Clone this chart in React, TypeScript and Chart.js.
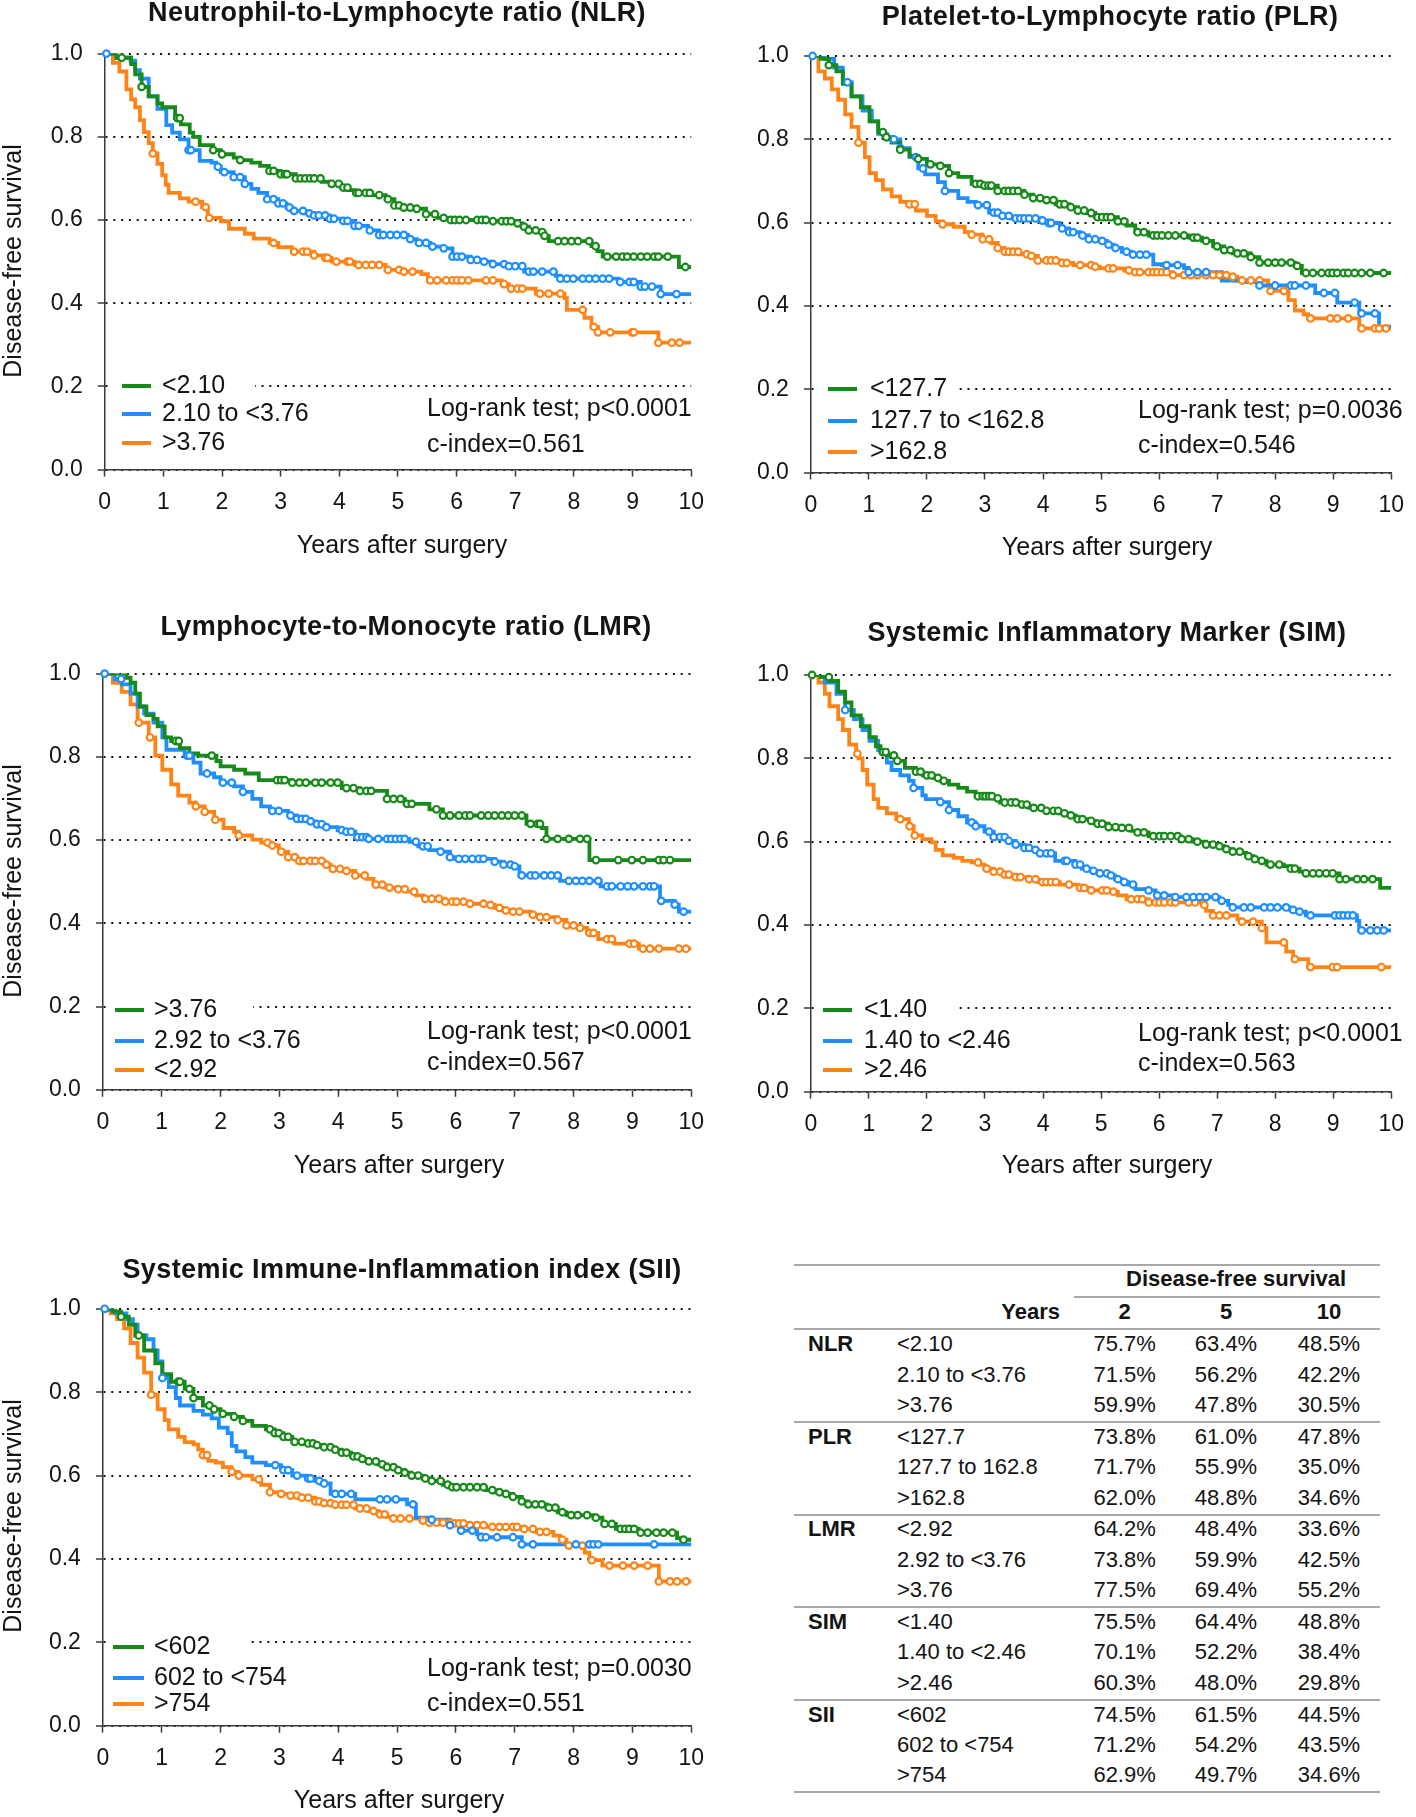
import React, { useEffect, useRef } from "react";
import { Chart, registerables } from "chart.js";
Chart.register(...registerables);

type Pt = [number, number];

const FONT = '"Liberation Sans", Arial, Helvetica, sans-serif';
const TEXT = "#141414";
const AXIS = "#3a3a3a";
const GREEN = "#178a1a";
const BLUE = "#1f8fff";
const ORANGE = "#ff8418";

const xTickValues = [0, 1, 2, 3, 4, 5, 6, 7, 8, 9, 10];
const yTickValues = [0, 0.2, 0.4, 0.6, 0.8, 1.0];
const xAxisTitle = "Years after surgery";
const yAxisTitle = "Disease-free survival";

// ---------------- NLR ----------------
const nlrLabels = ["<2.10", "2.10 to <3.76", ">3.76"];
const nlrLow: Pt[] = [[0,1],[0.2,0.99],[0.45,0.975],[0.52,0.95],[0.63,0.92],[0.75,0.897],[0.9,0.88],[0.98,0.871],[1.2,0.845],[1.3,0.83],[1.45,0.81],[1.51,0.8],[1.62,0.78],[1.85,0.768],[1.98,0.758],[2.2,0.75],[2.31,0.744],[2.5,0.738],[2.65,0.73],[2.8,0.718],[3.0,0.71],[3.26,0.7],[3.7,0.692],[3.87,0.687],[4.03,0.678],[4.15,0.672],[4.26,0.665],[4.56,0.66],[4.79,0.65],[4.94,0.635],[5.1,0.63],[5.25,0.627],[5.48,0.614],[5.67,0.605],[5.9,0.6],[6.62,0.597],[7.0,0.592],[7.12,0.584],[7.23,0.575],[7.38,0.571],[7.5,0.562],[7.57,0.549],[8.3,0.537],[8.4,0.525],[8.49,0.512],[9.79,0.487],[10,0.487]];
const nlrMid: Pt[] = [[0,1],[0.2,0.99],[0.44,0.983],[0.52,0.96],[0.6,0.94],[0.75,0.897],[0.9,0.867],[1.05,0.828],[1.15,0.81],[1.28,0.794],[1.43,0.768],[1.62,0.742],[1.82,0.738],[1.9,0.728],[1.98,0.715],[2.2,0.703],[2.39,0.687],[2.5,0.675],[2.62,0.665],[2.77,0.65],[2.96,0.64],[3.1,0.63],[3.19,0.622],[3.42,0.616],[3.57,0.611],[3.84,0.603],[4.03,0.598],[4.26,0.586],[4.49,0.575],[4.68,0.564],[5.17,0.554],[5.32,0.545],[5.55,0.536],[5.78,0.532],[5.93,0.512],[6.24,0.504],[6.47,0.5],[6.62,0.494],[6.85,0.489],[7.15,0.476],[7.69,0.466],[7.77,0.459],[8.76,0.451],[9.14,0.44],[9.48,0.422],[10,0.422]];
const nlrHigh: Pt[] = [[0,1],[0.14,0.978],[0.25,0.957],[0.37,0.914],[0.45,0.89],[0.52,0.871],[0.6,0.84],[0.67,0.811],[0.75,0.785],[0.82,0.76],[0.9,0.735],[0.98,0.708],[1.04,0.685],[1.09,0.665],[1.28,0.652],[1.43,0.644],[1.66,0.631],[1.76,0.605],[1.98,0.597],[2.12,0.579],[2.39,0.567],[2.54,0.555],[2.81,0.545],[2.96,0.535],[3.19,0.524],[3.57,0.515],[3.76,0.509],[3.87,0.5],[4.26,0.492],[4.79,0.48],[5.1,0.476],[5.4,0.47],[5.51,0.455],[6.77,0.446],[6.89,0.435],[7.35,0.423],[7.84,0.412],[7.88,0.384],[8.18,0.365],[8.3,0.343],[8.41,0.33],[9.44,0.305],[10,0.305]];
const nlrLowCens = [0.29,0.63,1.24,1.28,1.85,2.0,2.31,2.81,2.88,3.0,3.07,3.11,3.26,3.34,3.42,3.5,3.57,3.68,3.87,3.99,4.07,4.14,4.29,4.33,4.45,4.52,4.68,4.83,4.94,5.02,5.1,5.21,5.32,5.48,5.63,5.78,5.9,5.97,6.05,6.16,6.35,6.43,6.5,6.62,6.77,6.85,6.93,7.04,7.15,7.23,7.35,7.46,7.5,7.73,7.84,7.96,8.07,8.26,8.37,8.57,8.72,8.83,8.91,9.02,9.14,9.25,9.37,9.44,9.6,9.9];
const nlrMidCens = [0.03,1.43,1.47,1.93,2.04,2.2,2.31,2.39,2.77,2.88,2.96,3.04,3.15,3.23,3.38,3.49,3.57,3.65,3.76,3.84,3.91,4.07,4.14,4.26,4.33,4.52,4.68,4.75,4.87,4.98,5.1,5.21,5.36,5.48,5.59,5.78,5.93,6.01,6.09,6.24,6.35,6.47,6.62,6.81,6.89,7.0,7.12,7.23,7.31,7.46,7.65,7.77,7.88,7.99,8.15,8.26,8.37,8.49,8.6,8.79,8.95,9.02,9.14,9.21,9.33,9.48,9.75];
const nlrHighCens = [0.82,1.55,1.72,1.78,2.88,3.23,3.38,3.45,3.57,3.76,3.8,3.95,4.14,4.18,4.33,4.45,4.56,4.68,4.83,5.02,5.1,5.25,5.55,5.67,5.82,5.93,6.01,6.09,6.2,6.5,6.62,6.81,6.93,7.04,7.12,7.42,7.57,7.77,8.15,8.34,8.41,8.62,8.99,9.02,9.44,9.67,9.8];

// ---------------- PLR ----------------
const plrLabels = ["<127.7", "127.7 to <162.8", ">162.8"];
const plrLow: Pt[] = [[0,1],[0.17,0.993],[0.31,0.978],[0.44,0.963],[0.55,0.933],[0.7,0.903],[0.86,0.877],[1.01,0.843],[1.16,0.817],[1.25,0.805],[1.39,0.792],[1.54,0.775],[1.7,0.76],[1.85,0.753],[2.0,0.74],[2.23,0.736],[2.38,0.719],[2.54,0.71],[2.77,0.693],[2.95,0.689],[3.22,0.676],[3.68,0.667],[3.83,0.659],[4.06,0.654],[4.22,0.644],[4.45,0.637],[4.6,0.629],[4.75,0.623],[4.9,0.613],[5.29,0.603],[5.44,0.593],[5.59,0.577],[5.82,0.569],[6.51,0.564],[6.74,0.556],[6.93,0.543],[7.12,0.534],[7.27,0.526],[7.58,0.517],[7.73,0.504],[8.34,0.496],[8.46,0.479],[10,0.478]];
const plrMid: Pt[] = [[0,1],[0.24,0.993],[0.4,0.972],[0.55,0.937],[0.7,0.903],[0.89,0.869],[1.05,0.843],[1.16,0.813],[1.31,0.8],[1.54,0.779],[1.7,0.757],[1.85,0.73],[1.97,0.716],[2.19,0.697],[2.31,0.676],[2.54,0.659],[2.7,0.65],[2.84,0.642],[3.07,0.624],[3.26,0.616],[3.45,0.61],[3.95,0.605],[4.06,0.599],[4.29,0.586],[4.45,0.577],[4.64,0.569],[4.79,0.56],[4.98,0.556],[5.1,0.547],[5.21,0.539],[5.36,0.53],[5.52,0.523],[5.9,0.5],[6.05,0.498],[6.43,0.491],[6.51,0.481],[7.08,0.461],[7.5,0.457],[7.73,0.449],[8.69,0.431],[9.07,0.408],[9.45,0.382],[9.79,0.35],[10,0.35]];
const plrHigh: Pt[] = [[0,1],[0.13,0.963],[0.24,0.946],[0.36,0.92],[0.47,0.895],[0.59,0.86],[0.7,0.83],[0.82,0.792],[0.93,0.757],[1.01,0.719],[1.12,0.702],[1.24,0.68],[1.39,0.663],[1.54,0.65],[1.66,0.644],[1.81,0.629],[2.0,0.616],[2.15,0.603],[2.27,0.596],[2.46,0.59],[2.65,0.577],[2.77,0.571],[2.96,0.56],[3.11,0.551],[3.22,0.539],[3.34,0.53],[3.61,0.524],[3.76,0.52],[3.91,0.509],[4.29,0.503],[4.52,0.498],[4.9,0.494],[4.98,0.49],[5.4,0.485],[5.59,0.481],[6.24,0.474],[7.2,0.47],[7.35,0.461],[7.88,0.449],[7.92,0.436],[8.23,0.414],[8.34,0.389],[8.49,0.38],[8.57,0.37],[9.45,0.346],[10,0.346]];
const plrLowCens = [0.31,1.24,1.3,1.54,1.85,2.06,2.23,2.38,2.84,2.92,2.99,3.06,3.11,3.22,3.34,3.41,3.49,3.57,3.68,3.83,3.95,4.06,4.18,4.29,4.37,4.48,4.6,4.71,4.83,4.94,5.02,5.1,5.17,5.29,5.4,5.63,5.74,5.9,5.97,6.05,6.16,6.28,6.43,6.59,6.66,6.81,7.0,7.12,7.23,7.35,7.46,7.58,7.73,7.88,8.0,8.11,8.27,8.38,8.53,8.65,8.8,8.92,8.99,9.07,9.18,9.26,9.37,9.49,9.64,9.87];
const plrMidCens = [0.03,0.63,1.43,1.54,1.81,1.93,2.31,2.88,3.03,3.15,3.22,3.3,3.41,3.53,3.61,3.68,3.76,3.87,3.99,4.1,4.14,4.33,4.45,4.52,4.68,4.79,4.9,5.02,5.13,5.25,5.44,5.55,5.67,5.78,6.13,6.32,6.51,6.66,6.81,7.73,8.0,8.27,8.34,8.53,8.84,9.03,9.37,9.49,9.72];
const plrHighCens = [0.82,1.7,1.79,2.27,2.77,2.96,3.07,3.22,3.34,3.41,3.49,3.57,3.72,3.8,3.91,4.06,4.14,4.22,4.33,4.41,4.64,4.83,4.9,5.13,5.21,5.48,5.59,5.67,5.82,5.9,5.97,6.05,6.13,6.24,6.43,6.55,6.66,6.81,6.93,7.04,7.16,7.27,7.43,7.58,7.73,7.92,8.15,8.61,8.95,9.07,9.26,9.49,9.72,9.79,9.91];

// ---------------- LMR ----------------
const lmrLabels = [">3.76", "2.92 to <3.76", "<2.92"];
const lmrHigh: Pt[] = [[0,1],[0.4,0.99],[0.47,0.978],[0.55,0.952],[0.63,0.921],[0.74,0.9],[0.86,0.891],[0.93,0.873],[1.05,0.847],[1.16,0.838],[1.31,0.821],[1.47,0.808],[1.62,0.803],[1.93,0.79],[2.0,0.777],[2.23,0.769],[2.42,0.76],[2.65,0.744],[3.22,0.738],[4.06,0.725],[4.37,0.718],[4.83,0.699],[5.13,0.687],[5.55,0.674],[5.78,0.659],[7.2,0.639],[7.46,0.629],[7.54,0.603],[8.27,0.552],[10,0.552]];
const lmrMid: Pt[] = [[0,1],[0.2,0.987],[0.32,0.974],[0.47,0.952],[0.59,0.921],[0.7,0.904],[0.86,0.882],[1.01,0.847],[1.08,0.817],[1.39,0.803],[1.54,0.786],[1.66,0.76],[1.89,0.751],[2.0,0.738],[2.23,0.729],[2.38,0.716],[2.54,0.699],[2.69,0.681],[2.84,0.67],[3.15,0.659],[3.3,0.651],[3.53,0.645],[3.61,0.638],[3.76,0.631],[3.99,0.624],[4.14,0.62],[4.29,0.607],[4.52,0.603],[5.21,0.596],[5.36,0.585],[5.55,0.576],[5.74,0.572],[5.9,0.559],[5.97,0.555],[6.66,0.548],[6.81,0.541],[6.97,0.537],[7.08,0.515],[7.77,0.502],[8.46,0.489],[9.47,0.454],[9.72,0.445],[9.79,0.428],[10,0.425]];
const lmrLow: Pt[] = [[0,1],[0.17,0.978],[0.32,0.956],[0.47,0.926],[0.59,0.882],[0.78,0.847],[0.89,0.803],[1.01,0.769],[1.16,0.734],[1.28,0.707],[1.47,0.69],[1.58,0.681],[1.73,0.668],[1.89,0.649],[2.05,0.629],[2.23,0.62],[2.31,0.611],[2.54,0.601],[2.69,0.594],[2.84,0.587],[2.99,0.572],[3.15,0.559],[3.3,0.55],[3.76,0.541],[3.87,0.531],[4.06,0.526],[4.29,0.515],[4.48,0.507],[4.6,0.493],[4.79,0.486],[4.98,0.482],[5.17,0.476],[5.32,0.467],[5.44,0.459],[5.82,0.452],[6.2,0.447],[6.51,0.444],[6.66,0.437],[6.81,0.431],[6.97,0.428],[7.27,0.421],[7.43,0.415],[7.73,0.408],[7.88,0.395],[8.11,0.389],[8.23,0.377],[8.42,0.362],[8.69,0.351],[9.11,0.339],[10,0.336]];
const lmrHighCens = [1.24,1.29,1.85,2.96,3.03,3.09,3.22,3.34,3.45,3.61,3.72,3.87,3.99,4.14,4.26,4.37,4.48,4.56,4.83,4.94,5.06,5.17,5.25,5.67,5.78,5.9,6.05,6.16,6.24,6.43,6.55,6.66,6.78,6.89,7.0,7.12,7.27,7.39,7.43,7.54,7.73,7.92,8.11,8.23,8.38,8.76,8.99,9.18,9.45,9.53,9.64];
const lmrMidCens = [0.03,0.31,1.43,1.47,1.77,2.04,2.19,2.38,2.88,2.99,3.19,3.3,3.38,3.45,3.53,3.64,3.72,3.8,4.06,4.14,4.22,4.33,4.41,4.48,4.52,4.68,4.83,4.9,4.98,5.06,5.13,5.32,5.44,5.52,5.74,5.9,6.05,6.16,6.28,6.39,6.47,6.66,6.81,6.93,7.0,7.12,7.27,7.35,7.5,7.62,7.73,7.92,8.04,8.15,8.27,8.42,8.57,8.65,8.8,8.92,9.03,9.18,9.3,9.37,9.49,9.72,9.87];
const lmrLowCens = [0.61,0.8,1.58,1.73,1.91,2.31,2.8,2.88,3.03,3.15,3.26,3.34,3.41,3.53,3.61,3.72,3.8,3.91,4.03,4.14,4.29,4.45,4.64,4.75,4.87,5.02,5.13,5.29,5.48,5.59,5.71,5.82,5.94,6.01,6.13,6.24,6.47,6.59,6.74,6.85,6.97,7.08,7.31,7.43,7.54,7.73,7.88,8.0,8.11,8.27,8.34,8.57,8.65,8.95,9.03,9.18,9.3,9.45,9.79,9.91];

// ---------------- SIM ----------------
const simLabels = ["<1.40", "1.40 to <2.46", ">2.46"];
const simLow: Pt[] = [[0,1],[0.17,0.995],[0.32,0.986],[0.47,0.96],[0.59,0.934],[0.7,0.903],[0.86,0.877],[1.01,0.851],[1.12,0.829],[1.2,0.815],[1.31,0.807],[1.47,0.794],[1.62,0.777],[1.81,0.768],[1.93,0.759],[2.12,0.753],[2.23,0.746],[2.38,0.737],[2.54,0.729],[2.69,0.72],[2.84,0.709],[3.15,0.704],[3.26,0.694],[3.6,0.689],[3.76,0.681],[3.99,0.678],[4.06,0.674],[4.29,0.668],[4.44,0.663],[4.56,0.654],[4.83,0.65],[4.9,0.643],[5.13,0.635],[5.36,0.633],[5.52,0.626],[5.63,0.622],[5.82,0.613],[6.36,0.606],[6.58,0.6],[6.81,0.593],[6.97,0.589],[7.12,0.582],[7.27,0.576],[7.43,0.573],[7.5,0.565],[7.62,0.558],[7.73,0.554],[7.85,0.545],[8.15,0.541],[8.27,0.535],[8.42,0.528],[8.53,0.524],[9.11,0.51],[9.81,0.489],[10,0.488]];
const simMid: Pt[] = [[0,1],[0.24,0.982],[0.44,0.955],[0.59,0.916],[0.74,0.894],[0.89,0.868],[1.01,0.842],[1.16,0.82],[1.31,0.79],[1.39,0.772],[1.54,0.759],[1.69,0.746],[1.77,0.729],[1.92,0.711],[1.98,0.702],[2.23,0.695],[2.38,0.676],[2.54,0.661],[2.69,0.646],[2.84,0.637],[2.99,0.624],[3.15,0.611],[3.37,0.602],[3.53,0.593],[3.68,0.585],[3.8,0.58],[3.91,0.572],[4.21,0.554],[4.56,0.545],[4.67,0.535],[4.82,0.53],[4.98,0.524],[5.13,0.519],[5.24,0.51],[5.36,0.503],[5.47,0.497],[5.59,0.486],[5.82,0.483],[5.94,0.471],[6.24,0.467],[7.04,0.458],[7.19,0.448],[7.27,0.442],[8.26,0.436],[8.38,0.432],[8.53,0.423],[9.41,0.41],[9.45,0.387],[10,0.387]];
const simHigh: Pt[] = [[0,1],[0.13,0.982],[0.24,0.955],[0.32,0.925],[0.47,0.894],[0.55,0.868],[0.66,0.833],[0.78,0.811],[0.82,0.8],[0.89,0.772],[0.97,0.737],[1.08,0.702],[1.16,0.681],[1.31,0.668],[1.47,0.654],[1.69,0.637],[1.77,0.615],[1.92,0.606],[2.08,0.598],[2.15,0.58],[2.27,0.567],[2.46,0.561],[2.61,0.554],[2.77,0.55],[2.9,0.545],[2.99,0.535],[3.15,0.528],[3.3,0.521],[3.53,0.515],[3.76,0.51],[3.91,0.503],[4.29,0.497],[4.6,0.489],[4.83,0.483],[5.13,0.48],[5.29,0.471],[5.44,0.462],[5.82,0.454],[6.74,0.448],[6.81,0.434],[6.93,0.423],[7.35,0.414],[7.39,0.408],[7.77,0.393],[7.85,0.358],[8.19,0.336],[8.31,0.318],[8.57,0.299],[10,0.298]];
const simLowCens = [0.02,0.31,1.24,1.29,1.43,1.49,1.81,1.89,2.0,2.08,2.19,2.29,2.88,2.96,3.01,3.07,3.12,3.22,3.34,3.45,3.53,3.64,3.72,3.84,3.97,4.06,4.18,4.26,4.37,4.48,4.6,4.68,4.83,4.94,5.02,5.13,5.25,5.36,5.48,5.63,5.74,5.9,6.01,6.09,6.2,6.32,6.39,6.51,6.66,6.81,6.93,7.04,7.16,7.27,7.39,7.54,7.65,7.77,7.92,8.07,8.27,8.34,8.53,8.65,8.76,8.88,8.99,9.11,9.22,9.41,9.53,9.68];
const simMidCens = [0.59,1.77,2.23,2.38,2.77,2.84,3.07,3.15,3.26,3.34,3.41,3.53,3.68,3.76,3.87,3.95,4.06,4.14,4.37,4.41,4.56,4.64,4.75,4.87,4.98,5.1,5.17,5.29,5.4,5.55,5.82,5.97,6.09,6.28,6.47,6.59,6.7,6.81,6.97,7.08,7.27,7.46,7.58,7.81,7.92,8.04,8.19,8.31,8.42,8.61,9.03,9.11,9.18,9.26,9.34,9.49,9.64,9.76,9.87];
const simHighCens = [0.8,1.54,1.7,1.79,2.88,3.03,3.15,3.26,3.34,3.41,3.53,3.61,3.76,3.87,3.99,4.06,4.14,4.22,4.45,4.64,4.71,4.83,5.02,5.1,5.21,5.52,5.63,5.71,5.82,5.94,6.01,6.09,6.2,6.28,6.51,6.62,6.78,6.93,7.04,7.16,7.43,7.62,7.77,8.15,8.34,8.61,8.99,9.07,9.83];

// ---------------- SII ----------------
const siiLabels = ["<602", "602 to <754", ">754"];
const siiLow: Pt[] = [[0,1],[0.17,0.993],[0.31,0.981],[0.44,0.962],[0.55,0.936],[0.7,0.9],[0.89,0.869],[1.01,0.843],[1.16,0.825],[1.39,0.808],[1.54,0.786],[1.7,0.768],[1.85,0.759],[2.0,0.748],[2.23,0.741],[2.38,0.731],[2.54,0.719],[2.77,0.711],[2.92,0.702],[3.07,0.693],[3.22,0.681],[3.45,0.677],[3.61,0.673],[3.76,0.668],[3.91,0.662],[4.06,0.655],[4.22,0.646],[4.37,0.64],[4.52,0.634],[4.68,0.627],[4.83,0.62],[4.98,0.613],[5.13,0.607],[5.24,0.6],[5.44,0.593],[5.59,0.587],[5.78,0.578],[5.9,0.572],[6.51,0.565],[6.66,0.56],[6.85,0.556],[6.97,0.549],[7.12,0.538],[7.23,0.531],[7.54,0.523],[7.73,0.512],[7.88,0.505],[8.34,0.499],[8.49,0.484],[8.72,0.472],[9.11,0.463],[9.76,0.45],[9.83,0.446],[10,0.445]];
const siiMid: Pt[] = [[0,1],[0.09,0.997],[0.21,0.989],[0.4,0.975],[0.51,0.962],[0.59,0.936],[0.74,0.927],[0.86,0.9],[0.93,0.874],[1.01,0.834],[1.12,0.812],[1.24,0.786],[1.31,0.768],[1.54,0.755],[1.7,0.746],[1.85,0.737],[1.97,0.715],[2.12,0.702],[2.19,0.671],[2.27,0.658],[2.42,0.644],[2.54,0.631],[2.77,0.625],[3.03,0.613],[3.22,0.6],[3.45,0.593],[3.61,0.587],[3.76,0.581],[3.87,0.556],[4.29,0.543],[5.17,0.531],[5.32,0.499],[5.59,0.494],[5.9,0.481],[6.05,0.468],[6.36,0.459],[6.43,0.452],[7.12,0.435],[10,0.435]];
const siiHigh: Pt[] = [[0,1],[0.13,0.989],[0.24,0.975],[0.36,0.953],[0.47,0.918],[0.59,0.883],[0.7,0.847],[0.82,0.794],[0.93,0.759],[1.05,0.733],[1.12,0.711],[1.28,0.693],[1.39,0.68],[1.54,0.675],[1.62,0.662],[1.7,0.649],[1.79,0.635],[1.92,0.631],[2.04,0.62],[2.19,0.609],[2.31,0.6],[2.54,0.591],[2.69,0.578],[2.84,0.56],[3.03,0.556],[3.19,0.552],[3.38,0.547],[3.61,0.538],[3.76,0.534],[3.91,0.53],[4.29,0.521],[4.52,0.515],[4.68,0.507],[4.83,0.501],[4.9,0.497],[5.4,0.492],[5.55,0.487],[5.97,0.485],[6.24,0.481],[6.51,0.477],[7.12,0.472],[7.35,0.465],[7.66,0.456],[7.77,0.446],[7.88,0.432],[8.19,0.415],[8.27,0.397],[8.49,0.384],[9.45,0.346],[10,0.346]];
const siiLowCens = [0.31,0.61,1.28,1.31,1.47,1.54,1.81,1.89,2.04,2.23,2.38,2.84,2.92,2.99,3.07,3.15,3.26,3.38,3.49,3.57,3.64,3.76,3.87,3.95,4.06,4.14,4.26,4.33,4.41,4.52,4.64,4.75,4.83,4.94,5.02,5.13,5.25,5.36,5.48,5.59,5.74,5.86,5.94,6.01,6.13,6.24,6.36,6.47,6.62,6.74,6.85,6.97,7.12,7.23,7.35,7.46,7.58,7.69,7.81,7.96,8.07,8.23,8.38,8.53,8.65,8.8,8.88,8.95,9.03,9.14,9.26,9.41,9.53,9.68,9.87];
const siiMidCens = [0.03,1.01,2.93,3.07,3.15,3.3,3.49,3.53,3.68,3.76,3.95,4.06,4.22,4.71,4.83,4.98,5.27,5.59,5.9,6.09,6.28,6.43,6.51,6.7,6.97,7.12,7.31,8.04,8.27,8.34,8.42,9.37];
const siiHighCens = [0.82,1.7,1.77,2.19,2.31,2.65,2.84,3.03,3.19,3.3,3.38,3.49,3.61,3.68,3.76,3.87,3.95,4.06,4.14,4.26,4.37,4.48,4.6,4.71,4.79,4.94,5.06,5.21,5.44,5.55,5.67,5.78,5.9,5.97,6.05,6.13,6.24,6.36,6.47,6.62,6.74,6.85,6.97,7.04,7.16,7.31,7.43,7.54,7.81,7.92,8.15,8.31,8.61,8.84,9.03,9.26,9.45,9.64,9.76,9.91];

// ---------------- Table ----------------
const tableHeader = "Disease-free survival";
const tableYearsLabel = "Years";
const tableYears = ["2", "5", "10"];
const tableGroups = ["NLR", "PLR", "LMR", "SIM", "SII"];
const tableCategories = [
  ["<2.10", "2.10 to <3.76", ">3.76"],
  ["<127.7", "127.7 to 162.8", ">162.8"],
  ["<2.92", "2.92 to <3.76", ">3.76"],
  ["<1.40", "1.40 to <2.46", ">2.46"],
  ["<602", "602 to <754", ">754"],
];
const tableValues = [
  [["75.7%", "63.4%", "48.5%"], ["71.5%", "56.2%", "42.2%"], ["59.9%", "47.8%", "30.5%"]],
  [["73.8%", "61.0%", "47.8%"], ["71.7%", "55.9%", "35.0%"], ["62.0%", "48.8%", "34.6%"]],
  [["64.2%", "48.4%", "33.6%"], ["73.8%", "59.9%", "42.5%"], ["77.5%", "69.4%", "55.2%"]],
  [["75.5%", "64.4%", "48.8%"], ["70.1%", "52.2%", "38.4%"], ["60.3%", "48.0%", "29.8%"]],
  [["74.5%", "61.5%", "44.5%"], ["71.2%", "54.2%", "43.5%"], ["62.9%", "49.7%", "34.6%"]],
];

// ---------------- Layout specs ----------------
interface Series { label: string; color: string; curve: Pt[]; censor: number[] }
interface Rect { x: number; y: number; w: number; h: number }
interface PanelSpec {
  title: string;
  series: Series[];
  logrank: string;
  cindex: string;
  canvas: Rect;
  plot: { l: number; r: number; t: number; b: number };
  titlePos: [number, number];
  xTitlePos: [number, number];
  yTitlePos?: [number, number];
  legend: { x1: number; x2: number; tx: number; rows: number[] };
  annot: { x: number; rows: number[] };
  gapEnd: number;
}

const mk = (labels: string[], curves: Pt[][], cens: number[][]): Series[] =>
  [GREEN, BLUE, ORANGE].map((color, i) => ({ label: labels[i], color, curve: curves[i], censor: cens[i] }));

const panels: PanelSpec[] = [
  {
    title: "Neutrophil-to-Lymphocyte ratio (NLR)",
    series: mk(nlrLabels, [nlrLow, nlrMid, nlrHigh], [nlrLowCens, nlrMidCens, nlrHighCens]),
    logrank: "Log-rank test; p<0.0001", cindex: "c-index=0.561",
    canvas: { x: 0, y: 0, w: 716, h: 600 },
    plot: { l: 104.7, r: 696.6, t: 53.6, b: 469.6 },
    titlePos: [397, 14], xTitlePos: [402, 546], yTitlePos: [14, 261],
    legend: { x1: 122, x2: 151, tx: 162, rows: [386, 414, 443] },
    annot: { x: 427, rows: [409, 445] }, gapEnd: 255,
  },
  {
    title: "Platelet-to-Lymphocyte ratio (PLR)",
    series: mk(plrLabels, [plrLow, plrMid, plrHigh], [plrLowCens, plrMidCens, plrHighCens]),
    logrank: "Log-rank test; p=0.0036", cindex: "c-index=0.546",
    canvas: { x: 716, y: 0, w: 700, h: 600 },
    plot: { l: 810.9, r: 1401.9, t: 56, b: 472.5 },
    titlePos: [1110, 18], xTitlePos: [1107, 548],
    legend: { x1: 828, x2: 857, tx: 870, rows: [389, 421, 452] },
    annot: { x: 1138, rows: [411, 446] }, gapEnd: 959,
  },
  {
    title: "Lymphocyte-to-Monocyte ratio (LMR)",
    series: mk(lmrLabels, [lmrHigh, lmrMid, lmrLow], [lmrHighCens, lmrMidCens, lmrLowCens]),
    logrank: "Log-rank test; p<0.0001", cindex: "c-index=0.567",
    canvas: { x: 0, y: 600, w: 716, h: 620 },
    plot: { l: 102.9, r: 693.9, t: 673.6, b: 1089.8 },
    titlePos: [406, 628], xTitlePos: [399, 1166], yTitlePos: [14, 881],
    legend: { x1: 115, x2: 144, tx: 154, rows: [1010, 1041, 1070] },
    annot: { x: 427, rows: [1032, 1063] }, gapEnd: 253,
  },
  {
    title: "Systemic Inflammatory Marker (SIM)",
    series: mk(simLabels, [simLow, simMid, simHigh], [simLowCens, simMidCens, simHighCens]),
    logrank: "Log-rank test; p<0.0001", cindex: "c-index=0.563",
    canvas: { x: 716, y: 600, w: 700, h: 620 },
    plot: { l: 810.9, r: 1401.9, t: 675, b: 1091.6 },
    titlePos: [1107, 634], xTitlePos: [1107, 1166],
    legend: { x1: 823, x2: 852, tx: 864, rows: [1010, 1041, 1070] },
    annot: { x: 1138, rows: [1034, 1064] }, gapEnd: 959,
  },
  {
    title: "Systemic Immune-Inflammation index (SII)",
    series: mk(siiLabels, [siiLow, siiMid, siiHigh], [siiLowCens, siiMidCens, siiHighCens]),
    logrank: "Log-rank test; p=0.0030", cindex: "c-index=0.551",
    canvas: { x: 0, y: 1230, w: 716, h: 587 },
    plot: { l: 102.9, r: 693.9, t: 1308.8, b: 1725.7 },
    titlePos: [402, 1271], xTitlePos: [399, 1801], yTitlePos: [14, 1516],
    legend: { x1: 113, x2: 144, tx: 154, rows: [1647, 1678, 1704] },
    annot: { x: 427, rows: [1669, 1704] }, gapEnd: 251,
  },
];

function stepAt(curve: Pt[], t: number): number {
  let v = curve[0][1];
  for (const [x, y] of curve) {
    if (x <= t) v = y;
    else break;
  }
  return v;
}

function makeDecor(spec: PanelSpec) {
  const ox = spec.canvas.x;
  const oy = spec.canvas.y;
  return {
    id: "decor",
    beforeDatasetsDraw(chart: any) {
      const ctx = chart.ctx;
      const y02 = chart.scales.y.getPixelForValue(0.2);
      const left = chart.chartArea.left + 7;
      ctx.save();
      ctx.fillStyle = "#ffffff";
      ctx.fillRect(left, y02 - 3, spec.gapEnd - ox - left, 6);
      ctx.restore();
    },
    afterDraw(chart: any) {
      const ctx = chart.ctx;
      ctx.save();
      ctx.fillStyle = TEXT;
      ctx.textBaseline = "middle";
      ctx.textAlign = "center";
      ctx.font = `bold 27px ${FONT}`;
      try { (ctx as any).letterSpacing = "0.4px"; } catch (e) { /* ignore */ }
      ctx.fillText(spec.title, spec.titlePos[0] - ox, spec.titlePos[1] - oy);
      try { (ctx as any).letterSpacing = "0px"; } catch (e) { /* ignore */ }
      ctx.font = `25px ${FONT}`;
      ctx.fillText(xAxisTitle, spec.xTitlePos[0] - ox, spec.xTitlePos[1] - oy);
      if (spec.yTitlePos) {
        ctx.save();
        ctx.translate(spec.yTitlePos[0] - ox, spec.yTitlePos[1] - oy);
        ctx.rotate(-Math.PI / 2);
        ctx.fillText(yAxisTitle, 0, 0);
        ctx.restore();
      }
      ctx.textAlign = "left";
      spec.series.forEach((s, i) => {
        const y = spec.legend.rows[i] - oy;
        ctx.strokeStyle = s.color;
        ctx.lineWidth = 4;
        ctx.beginPath();
        ctx.moveTo(spec.legend.x1 - ox, y);
        ctx.lineTo(spec.legend.x2 - ox, y);
        ctx.stroke();
        ctx.fillText(s.label, spec.legend.tx - ox, y);
      });
      ctx.fillText(spec.logrank, spec.annot.x - ox, spec.annot.rows[0] - oy);
      ctx.fillText(spec.cindex, spec.annot.x - ox, spec.annot.rows[1] - oy);
      ctx.restore();
    },
  };
}

function KMPanel({ spec }: { spec: PanelSpec }) {
  const ref = useRef<HTMLCanvasElement | null>(null);
  const c = spec.canvas;
  const p = spec.plot;
  useEffect(() => {
    if (!ref.current) return;
    const datasets: any[] = [];
    spec.series.forEach((s, i) => {
      datasets.push({
        label: s.label + " (censored)",
        data: s.censor.map((t) => ({ x: t, y: stepAt(s.curve, t) })),
        showLine: false,
        pointRadius: 3.3,
        pointBorderWidth: 2.2,
        pointBackgroundColor: "#ffffff",
        pointBorderColor: s.color,
        borderColor: s.color,
        order: i,
        clip: false,
      });
    });
    spec.series.forEach((s, i) => {
      datasets.push({
        label: s.label,
        data: s.curve.map(([x, y]) => ({ x, y })),
        stepped: true,
        borderColor: s.color,
        borderWidth: 3.8,
        pointRadius: 0,
        fill: false,
        order: 10 + i,
      });
    });
    const chart = new Chart(ref.current, {
      type: "line",
      data: { datasets },
      options: {
        animation: false,
        responsive: false,
        devicePixelRatio: 1,
        events: [],
        layout: {
          padding: { left: 0, top: p.t - c.y, right: c.x + c.w - p.r, bottom: 0 },
        },
        plugins: { legend: { display: false }, tooltip: { enabled: false }, title: { display: false } },
        scales: {
          x: {
            type: "linear",
            min: 0,
            max: 10,
            afterFit: (scale: any) => { scale.height = c.y + c.h - p.b; },
            afterBuildTicks: (scale: any) => { scale.ticks = xTickValues.map((v) => ({ value: v })); },
            ticks: { color: TEXT, font: { family: FONT, size: 23 }, padding: 12, maxRotation: 0, autoSkip: false },
            grid: { drawOnChartArea: false, drawTicks: true, tickLength: 7, tickColor: AXIS, tickWidth: 1.5, color: AXIS },
            border: { display: true, color: AXIS, width: 1.5 },
          },
          y: {
            type: "linear",
            min: 0,
            max: 1,
            afterFit: (scale: any) => { scale.width = p.l - c.x; },
            afterBuildTicks: (scale: any) => { scale.ticks = yTickValues.map((v) => ({ value: v })); },
            ticks: {
              color: TEXT,
              font: { family: FONT, size: 23 },
              padding: 15,
              callback: (v: any) => Number(v).toFixed(1),
            },
            grid: { color: "#111111", lineWidth: 2, drawTicks: true, tickLength: 7, tickColor: AXIS, tickWidth: 1.5 },
            border: { display: true, color: AXIS, width: 1.5, dash: [2, 5.8] },
          },
        },
      },
      plugins: [makeDecor(spec)],
    } as any);
    return () => chart.destroy();
  }, []);
  return (
    <canvas
      ref={ref}
      width={c.w}
      height={c.h}
      style={{ position: "absolute", left: c.x, top: c.y, width: c.w, height: c.h }}
    />
  );
}

function SurvivalTable() {
  const lineColor = "#a8a8a8";
  const fs = 22;
  const rowY = (g: number, r: number) => 1344.1 + g * 92.6 + r * 30.4;
  const groupLineY = (g: number) => 1329.4 + g * 92.6;
  const colCenters = [1124.6, 1226, 1329];
  const els: React.ReactNode[] = [];
  const hline = (key: string, x1: number, x2: number, y: number) =>
    els.push(
      <div key={key} style={{ position: "absolute", left: x1, top: y - 1, width: x2 - x1, height: 2, background: lineColor }} />
    );
  const text = (key: string, s: string, x: number, y: number, align: "left" | "center" | "right", bold = false) => {
    const w = 200;
    const left = align === "left" ? x : align === "center" ? x - w / 2 : x - w;
    els.push(
      <div
        key={key}
        style={{
          position: "absolute", left, top: y - 15, width: w, height: 30, lineHeight: "30px",
          textAlign: align, fontFamily: FONT, fontSize: fs, fontWeight: bold ? "bold" : "normal",
          color: TEXT, whiteSpace: "nowrap",
        }}
      >
        {s}
      </div>
    );
  };
  hline("top", 794, 1380, 1265);
  hline("sub", 1074, 1380, 1297);
  text("hdr", tableHeader, 1226, 1279, "center", true);
  text("yrs", tableYearsLabel, 1060, 1312, "right", true);
  tableYears.forEach((y, i) => text("yr" + i, y, colCenters[i], 1312, "center", true));
  for (let g = 0; g <= tableGroups.length; g++) hline("gl" + g, 794, 1380, groupLineY(g));
  tableGroups.forEach((grp, g) => {
    text("g" + g, grp, 808, rowY(g, 0), "left", true);
    tableCategories[g].forEach((cat, r) => {
      text(`c${g}-${r}`, cat, 897, rowY(g, r), "left");
      tableValues[g][r].forEach((v, k) => text(`v${g}-${r}-${k}`, v, colCenters[k], rowY(g, r), "center"));
    });
  });
  return <>{els}</>;
}

export default function App() {
  return (
    <div style={{ position: "absolute", left: 0, top: 0, width: 1416, height: 1817, background: "#ffffff", overflow: "hidden" }}>
      {panels.map((s, i) => (
        <KMPanel key={i} spec={s} />
      ))}
      <SurvivalTable />
    </div>
  );
}
